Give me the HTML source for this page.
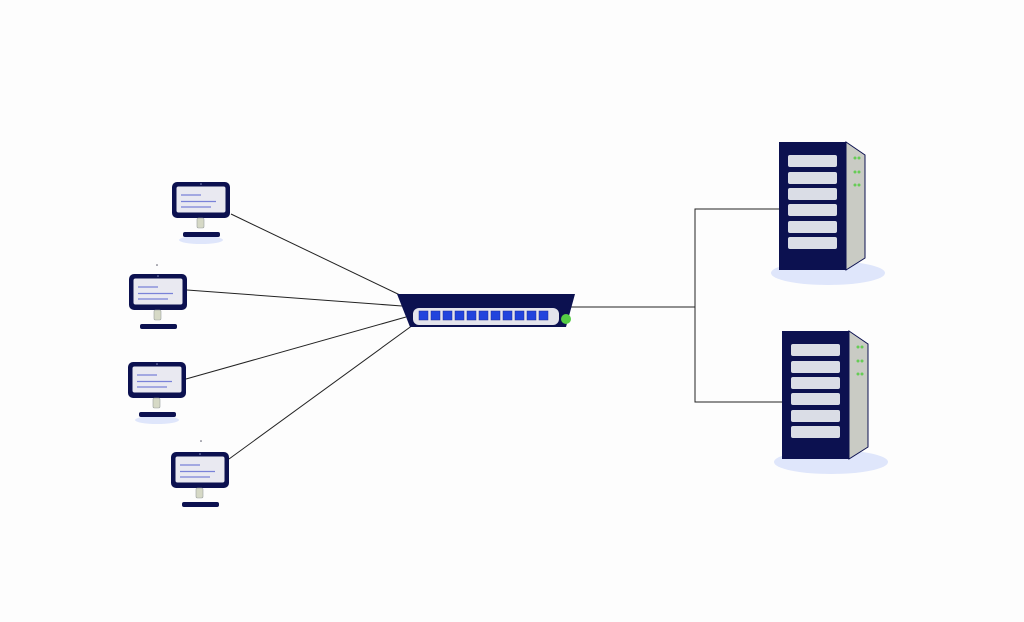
<!DOCTYPE html>
<html><head><style>html,body{margin:0;padding:0;background:#fdfdfd;}svg{display:block}</style></head>
<body>
<svg width="1024" height="622" viewBox="0 0 1024 622" xmlns="http://www.w3.org/2000/svg">
<defs>
<g id="mon">
<rect x="0" y="0" width="58" height="36" rx="5" fill="#0c1150"/>
<rect x="4.5" y="4.5" width="49" height="26" rx="2" fill="#e9e9f1"/>
<circle cx="29" cy="2" r="0.8" fill="#8890c0"/>
<line x1="9" y1="13" x2="29" y2="13" stroke="#7a82d8" stroke-width="1.3"/>
<line x1="9" y1="19.5" x2="44" y2="19.5" stroke="#7a82d8" stroke-width="1.3"/>
<line x1="9" y1="25" x2="39" y2="25" stroke="#7a82d8" stroke-width="1.3"/>
<rect x="25" y="36" width="7" height="10" rx="1.5" fill="#d6d9c6" stroke="#9aa0a0" stroke-width="0.6"/>
<rect x="11" y="50" width="37" height="5" rx="2" fill="#0c1150"/>
</g>
<g id="srv">
<ellipse cx="49" cy="131" rx="57" ry="12" fill="#dfe6fb"/>
<polygon points="67,0 86,13 86,116 67,128" fill="#c9cbc4" stroke="#0c1150" stroke-width="1"/>
<rect x="0" y="0" width="67" height="128" fill="#0c1150"/>
<rect x="9" y="13" width="49" height="12" rx="2" fill="#dadde6"/>
<rect x="9" y="30" width="49" height="12" rx="2" fill="#dadde6"/>
<rect x="9" y="46" width="49" height="12" rx="2" fill="#dadde6"/>
<rect x="9" y="62" width="49" height="12" rx="2" fill="#dadde6"/>
<rect x="9" y="79" width="49" height="12" rx="2" fill="#dadde6"/>
<rect x="9" y="95" width="49" height="12" rx="2" fill="#dadde6"/>
<g fill="#66cc55"><circle cx="76" cy="16" r="1.5"/><circle cx="80" cy="16" r="1.5"/><circle cx="76" cy="30" r="1.5"/><circle cx="80" cy="30" r="1.5"/><circle cx="76" cy="43" r="1.5"/><circle cx="80" cy="43" r="1.5"/></g>
</g>
</defs>
<g stroke="#222" stroke-width="1" fill="none">
<line x1="231" y1="214" x2="402" y2="296"/>
<line x1="187" y1="290" x2="402" y2="306"/>
<line x1="186" y1="379" x2="406" y2="317"/>
<line x1="229" y1="459" x2="413" y2="325"/>
<line x1="570" y1="307" x2="695" y2="307"/>
<polyline points="781,209 695,209 695,402 784,402"/>
</g>
<ellipse cx="201" cy="240" rx="22" ry="4" fill="#dfe6fb"/>
<ellipse cx="157" cy="420" rx="22" ry="4" fill="#dfe6fb"/>
<use href="#mon" x="172" y="182"/>
<use href="#mon" x="129" y="274"/>
<use href="#mon" x="128" y="362"/>
<use href="#mon" x="171" y="452"/>
<circle cx="157" cy="265" r="0.8" fill="#556"/>
<circle cx="201" cy="441" r="0.8" fill="#556"/>
<polygon points="397,294 575,294 566,327 410,327" fill="#0c1150"/>
<rect x="413" y="308" width="146" height="17" rx="6" fill="#e4e4ec"/>
<g fill="#2244dd" stroke="#1a2a99" stroke-width="0.5">
<rect x="419" y="311" width="9" height="9"/><rect x="431" y="311" width="9" height="9"/><rect x="443" y="311" width="9" height="9"/><rect x="455" y="311" width="9" height="9"/><rect x="467" y="311" width="9" height="9"/><rect x="479" y="311" width="9" height="9"/><rect x="491" y="311" width="9" height="9"/><rect x="503" y="311" width="9" height="9"/><rect x="515" y="311" width="9" height="9"/><rect x="527" y="311" width="9" height="9"/><rect x="539" y="311" width="9" height="9"/>
</g>
<circle cx="566" cy="319" r="5" fill="#55cc44"/>
<use href="#srv" x="779" y="142"/>
<use href="#srv" x="782" y="331"/>
</svg>
</body></html>
